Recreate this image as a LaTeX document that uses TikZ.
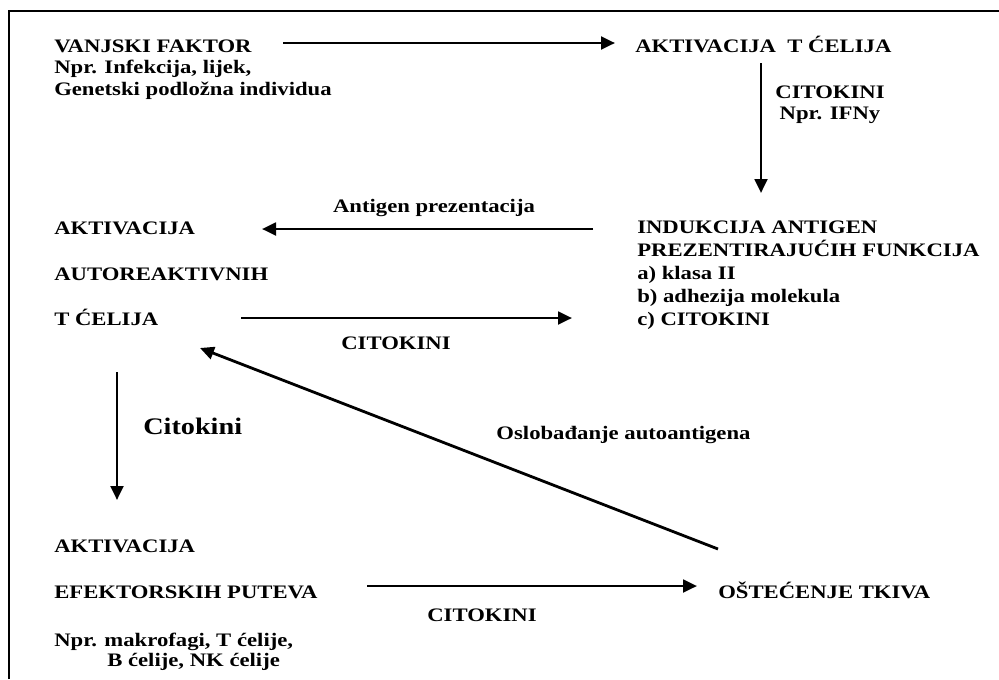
\documentclass[tikz,border=0pt]{standalone}
\usepackage{fontspec}
\setmainfont{Liberation Serif}[FakeStretch=1.19]
\usetikzlibrary{arrows.meta}
\begin{document}
\begin{tikzpicture}[x=0.75pt,y=-0.75pt,
  txt/.style={inner sep=0pt,anchor=base west,align=left,font=\fontsize{14.3}{16.1}\selectfont\bfseries},
  conn/.style={line width=2.1pt,-{Triangle[length=10.5pt,width=9.5pt]}},
  frame/.style={line width=1.5pt}]
\useasboundingbox (0,0) rectangle (999,679);
\draw[frame] (9,679) -- (9,11) -- (999,11);

% text blocks (multi-line nodes are placed by the baseline of their last line)
\node[txt] (vanjski) at (54,95.3) {VANJSKI FAKTOR\\Npr. Infekcija, lijek,\\Genetski podložna individua};
\node[txt] (aktT) at (635,52.7) {AKTIVACIJA\ \ T ĆELIJA};
\node[txt,anchor=base,align=center,font=\fontsize{14.3}{15.75}\selectfont\bfseries] (cit1) at (830,119.3) {CITOKINI\\Npr. IFNy};
\node[txt,font=\fontsize{14.3}{17.25}\selectfont\bfseries] (indukcija) at (637,325.3) {INDUKCIJA ANTIGEN\\PREZENTIRAJUĆIH FUNKCIJA\\a) klasa II\\b) adhezija molekula\\c) CITOKINI};
\node[txt,font=\fontsize{14.3}{34.3}\selectfont\bfseries] (autoreakt) at (54,325.8) {AKTIVACIJA\\AUTOREAKTIVNIH\\T ĆELIJA};
\node[txt,anchor=base] (antigenlbl) at (434,212.3) {Antigen prezentacija};
\node[txt,anchor=base] (cit2) at (396,349) {CITOKINI};
\node[txt,anchor=base] (osl) at (623.5,439.3) {Oslobađanje autoantigena};
\node[txt,font=\fontsize{17.8}{20}\selectfont\bfseries] (cit3) at (143,434.3) {Citokini};
\node[txt,font=\fontsize{14.3}{14.8}\selectfont\bfseries] (efektor) at (54,666.7) {AKTIVACIJA\\[19.5pt]EFEKTORSKIH PUTEVA\\[21.75pt]Npr. makrofagi, T ćelije,\\\hspace*{39.75pt}B ćelije, NK ćelije};
\node[txt,anchor=base] (cit4) at (482,621.7) {CITOKINI};
\node[txt] (ostecenje) at (718,598.3) {OŠTEĆENJE TKIVA};

% connector end points
\coordinate (a1s) at (283,43);  \coordinate (a1e) at (615,43);
\coordinate (a2s) at (761,63);  \coordinate (a2e) at (761,193);
\coordinate (a3s) at (593,229); \coordinate (a3e) at (262,229);
\coordinate (a4s) at (241,318); \coordinate (a4e) at (572,318);
\coordinate (a5s) at (718,549); \coordinate (a5e) at (200,348);
\coordinate (a6s) at (117,372); \coordinate (a6e) at (117,500);
\coordinate (a7s) at (367,586); \coordinate (a7e) at (697,586);

\draw[conn] (a1s) -- (a1e);
\draw[conn] (a2s) -- (a2e);
\draw[conn] (a3s) -- (a3e);
\draw[conn] (a4s) -- (a4e);
\draw[conn] (a5s) -- (a5e);
\draw[conn] (a6s) -- (a6e);
\draw[conn] (a7s) -- (a7e);
\end{tikzpicture}
\end{document}
